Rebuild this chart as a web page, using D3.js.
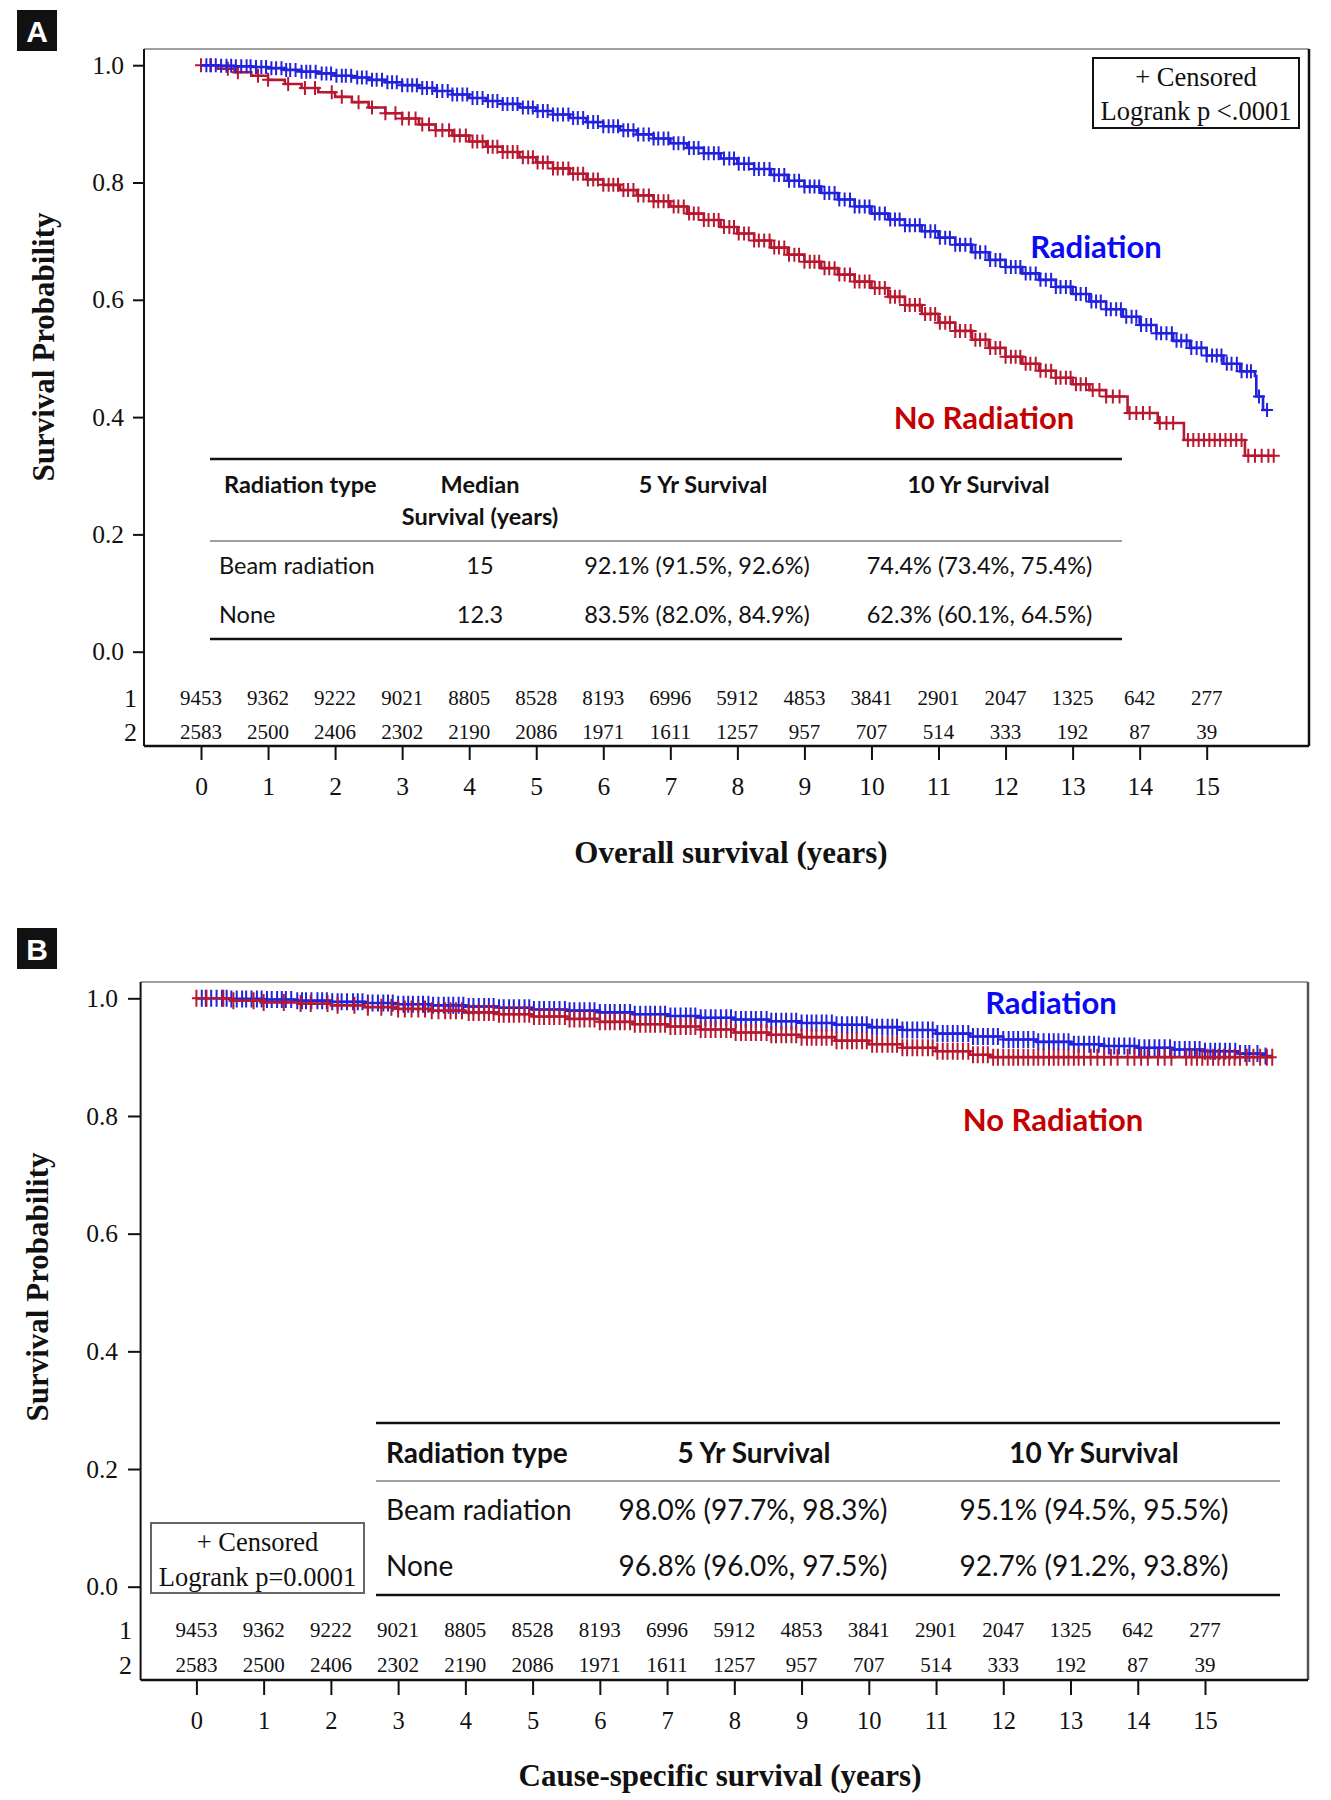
<!DOCTYPE html>
<html><head><meta charset="utf-8">
<script src="https://cdn.jsdelivr.net/npm/d3@7"></script>
<style>body{margin:0;background:#fff}svg{display:block}</style>
</head><body>
<script>
// ---------------- DATA ----------------
const years = [0,1,2,3,4,5,6,7,8,9,10,11,12,13,14,15];
const yTicks = [0.0,0.2,0.4,0.6,0.8,1.0];
const atRiskRadiation   = [9453,9362,9222,9021,8805,8528,8193,6996,5912,4853,3841,2901,2047,1325,642,277];
const atRiskNoRadiation = [2583,2500,2406,2302,2190,2086,1971,1611,1257,957,707,514,333,192,87,39];

// Panel A: overall survival (Kaplan-Meier step points)
const osRadTime = [0,0.25,0.5,0.75,1,1.25,1.5,1.75,2,2.25,2.5,2.75,3,3.25,3.5,3.75,4,4.25,4.5,4.75,5,5.25,5.5,5.75,6,6.25,6.5,6.75,7,7.25,7.5,7.75,8,8.25,8.5,8.75,9,9.25,9.5,9.75,10,10.25,10.5,10.75,11,11.25,11.5,11.75,12,12.25,12.5,12.75,13,13.25,13.5,13.75,14,14.25,14.5,14.75,15,15.25,15.5,15.72,15.74,15.84];
const osRadSurv = [1.000,0.999,0.998,0.997,0.995,0.992,0.989,0.986,0.982,0.979,0.975,0.971,0.966,0.961,0.956,0.950,0.944,0.939,0.934,0.928,0.922,0.916,0.910,0.903,0.896,0.889,0.882,0.875,0.867,0.859,0.850,0.841,0.832,0.823,0.813,0.803,0.793,0.782,0.771,0.759,0.747,0.737,0.727,0.717,0.706,0.694,0.681,0.668,0.656,0.645,0.634,0.622,0.610,0.597,0.584,0.571,0.557,0.543,0.530,0.518,0.505,0.491,0.478,0.470,0.435,0.412];
const osRadEnd = 15.92;
const osNoRadTime = [0,0.25,0.5,0.75,1,1.25,1.5,1.75,2,2.25,2.5,2.75,3,3.25,3.5,3.75,4,4.25,4.5,4.75,5,5.25,5.5,5.75,6,6.25,6.5,6.75,7,7.25,7.5,7.75,8,8.25,8.5,8.75,9,9.25,9.5,9.75,10,10.25,10.5,10.75,11,11.25,11.5,11.75,12,12.25,12.5,12.75,13,13.25,13.5,13.82,14.27,14.66,15.57];
const osNoRadSurv = [1.000,0.994,0.988,0.982,0.975,0.968,0.961,0.954,0.946,0.937,0.928,0.918,0.909,0.899,0.889,0.880,0.870,0.861,0.852,0.843,0.834,0.824,0.815,0.805,0.796,0.787,0.778,0.768,0.759,0.747,0.736,0.724,0.713,0.701,0.689,0.677,0.665,0.654,0.643,0.631,0.620,0.605,0.591,0.576,0.561,0.547,0.532,0.518,0.503,0.491,0.479,0.467,0.456,0.446,0.435,0.407,0.390,0.361,0.334];
const osNoRadEnd = 16.0;

// Panel B: cause-specific survival
const cssRadTime = [0,0.5,1,1.5,2,2.5,3,3.5,4,4.5,5,5.5,6,6.5,7,7.5,8,8.5,9,9.5,10,10.5,11,11.5,12,12.5,13,13.5,14,14.5,15,15.5,15.9];
const cssRadSurv = [1.000,0.999,0.998,0.996,0.994,0.992,0.990,0.988,0.986,0.984,0.981,0.979,0.976,0.973,0.970,0.967,0.964,0.961,0.958,0.955,0.951,0.946,0.940,0.935,0.930,0.926,0.922,0.919,0.916,0.913,0.910,0.906,0.902];
const cssRadEnd = 16.0;
const cssNoRadTime = [0,0.5,1,1.5,2,2.5,3,3.5,4,4.5,5,5.5,6,6.5,7,7.5,8,8.5,9,9.5,10,10.5,11,11.5,11.8];
const cssNoRadSurv = [1.000,0.996,0.993,0.991,0.988,0.985,0.982,0.979,0.976,0.973,0.969,0.965,0.960,0.956,0.952,0.947,0.942,0.938,0.934,0.928,0.922,0.916,0.910,0.904,0.900];
const cssNoRadEnd = 16.0;

// Censoring times (marks "+")
const censorRad = [0.08,0.14,0.22,0.3,0.38,0.45,0.52,0.6,0.68,0.74,0.82,0.9,0.97,1.05,1.12,1.2,1.27,1.33,1.41,1.5,1.57,1.63,1.71,1.8,1.87,1.94,2.02,2.1,2.16,2.24,2.33,2.4,2.47,2.55,2.62,2.7,2.78,2.85,2.92,3.0,3.08,3.15,3.22,3.3,3.37,3.45,3.52,3.6,3.68,3.75,3.82,3.9,3.97,4.05,4.12,4.2,4.28,4.35,4.42,4.5,4.57,4.65,4.72,4.8,4.88,4.95,5.02,5.1,5.17,5.25,5.32,5.4,5.48,5.55,5.62,5.7,5.77,5.85,5.92,6.0,6.08,6.15,6.22,6.3,6.37,6.45,6.52,6.6,6.68,6.75,6.82,6.9,6.97,7.05,7.12,7.2,7.28,7.35,7.42,7.5,7.57,7.65,7.72,7.8,7.88,7.95,8.02,8.1,8.17,8.25,8.32,8.4,8.48,8.55,8.62,8.7,8.77,8.85,8.92,9.0,9.08,9.15,9.22,9.3,9.37,9.45,9.52,9.6,9.68,9.75,9.82,9.9,9.97,10.05,10.12,10.2,10.28,10.35,10.42,10.5,10.57,10.65,10.72,10.8,10.88,10.95,11.02,11.1,11.17,11.25,11.32,11.4,11.48,11.55,11.62,11.7,11.77,11.85,11.92,12.0,12.08,12.15,12.22,12.3,12.37,12.45,12.52,12.6,12.68,12.75,12.82,12.9,12.97,13.05,13.12,13.2,13.28,13.35,13.42,13.5,13.57,13.65,13.72,13.8,13.88,13.95,14.02,14.1,14.17,14.25,14.32,14.4,14.48,14.55,14.62,14.7,14.77,14.85,14.92,15.0,15.08,15.15,15.22,15.3,15.37,15.45,15.52,15.6,15.66,15.78,15.9];
const censorNoRad = [0.0,0.15,0.4,0.55,0.85,1.0,1.3,1.55,1.7,1.95,2.1,2.35,2.55,2.75,2.9,3.0,3.1,3.2,3.3,3.4,3.5,3.6,3.7,3.78,3.86,3.95,4.05,4.12,4.2,4.28,4.35,4.42,4.5,4.57,4.65,4.72,4.8,4.88,4.95,5.02,5.1,5.17,5.25,5.32,5.4,5.48,5.55,5.62,5.7,5.77,5.85,5.92,6.0,6.08,6.15,6.22,6.3,6.37,6.45,6.52,6.6,6.68,6.75,6.82,6.9,6.97,7.05,7.12,7.2,7.28,7.35,7.42,7.5,7.57,7.65,7.72,7.8,7.88,7.95,8.02,8.1,8.17,8.25,8.32,8.4,8.48,8.55,8.62,8.7,8.77,8.85,8.92,9.0,9.08,9.15,9.22,9.3,9.37,9.45,9.52,9.6,9.68,9.75,9.82,9.9,9.97,10.05,10.12,10.2,10.28,10.35,10.42,10.5,10.57,10.65,10.72,10.8,10.88,10.95,11.02,11.1,11.17,11.25,11.32,11.4,11.48,11.55,11.62,11.7,11.77,11.85,11.92,12.0,12.08,12.15,12.22,12.3,12.37,12.45,12.52,12.6,12.68,12.75,12.82,12.9,12.97,13.05,13.12,13.2,13.3,13.4,13.5,13.6,13.7,13.85,13.95,14.05,14.15,14.3,14.4,14.5,14.72,14.8,14.88,14.96,15.04,15.12,15.2,15.28,15.36,15.44,15.52,15.62,15.72,15.82,15.92,16.0];

// Tables
const tableAHeader = [["Radiation type"],["Median","Survival (years)"],["5 Yr Survival"],["10 Yr Survival"]];
const tableARows = [
  ["Beam radiation","15","92.1% (91.5%, 92.6%)","74.4% (73.4%, 75.4%)"],
  ["None","12.3","83.5% (82.0%, 84.9%)","62.3% (60.1%, 64.5%)"]
];
const tableBHeader = [["Radiation type"],["5 Yr Survival"],["10 Yr Survival"]];
const tableBRows = [
  ["Beam radiation","98.0% (97.7%, 98.3%)","95.1% (94.5%, 95.5%)"],
  ["None","96.8% (96.0%, 97.5%)","92.7% (91.2%, 93.8%)"]
];

// ---------------- DRAW ----------------
const SERIF = "'Liberation Serif','Times New Roman',serif";
const SANS = "Lato,'Open Sans',sans-serif";
const BLUE = "#2222dd", RED = "#b8182f", BLUE_T = "#0a0af5", RED_T = "#c40000", INK = "#111";

const svg = d3.select("body").append("svg").attr("width",1331).attr("height",1800);

function stepAt(times, surv, t){ let v = surv[0]; for (let i=0;i<times.length;i++){ if (times[i] <= t) v = surv[i]; } return v; }

function drawPanel(p){
  const g = svg.append("g");
  const x = d3.scaleLinear().domain([0,15]).range(p.xRange);
  const y = d3.scaleLinear().domain([0,1]).range(p.yRange);

  // panel letter
  g.append("rect").attr("x",17).attr("y",p.letterY).attr("width",40).attr("height",41).attr("fill",INK);
  g.append("text").attr("x",37).attr("y",p.letterY+21).attr("text-anchor","middle").attr("dominant-baseline","central")
    .attr("font-family","'Liberation Sans',Arial,sans-serif").attr("font-weight","bold").attr("font-size",30).attr("fill","#fff").text(p.letter);

  // frame
  g.append("line").attr("x1",p.left).attr("x2",p.right).attr("y1",p.top).attr("y2",p.top).attr("stroke","#808080").attr("stroke-width",1.5);
  g.append("line").attr("x1",p.right).attr("x2",p.right).attr("y1",p.top).attr("y2",p.bottom).attr("stroke",p.rightColor).attr("stroke-width",2.5);
  g.append("line").attr("x1",p.left).attr("x2",p.left).attr("y1",p.top).attr("y2",p.bottom).attr("stroke",INK).attr("stroke-width",2);
  g.append("line").attr("x1",p.left).attr("x2",p.right).attr("y1",p.bottom).attr("y2",p.bottom).attr("stroke",INK).attr("stroke-width",2.5);

  // y axis
  const ya = g.append("g").attr("transform",`translate(${p.left},0)`)
    .call(d3.axisLeft(y).tickValues(yTicks).tickFormat(d3.format(".1f")).tickSize(p.yTickSize).tickPadding(p.yTickPad));
  ya.select(".domain").remove();
  ya.attr("font-family",SERIF).attr("font-size",25.5);
  ya.selectAll("line").attr("stroke",INK).attr("stroke-width",2);
  ya.selectAll("text").attr("fill",INK);

  // x axis
  const xa = g.append("g").attr("transform",`translate(0,${p.bottom})`)
    .call(d3.axisBottom(x).tickValues(years).tickFormat(d3.format("d")).tickSize(p.xTickSize));
  xa.select(".domain").remove();
  xa.attr("font-family",SERIF).attr("font-size",p.xTickFont);
  xa.selectAll("line").attr("stroke",INK).attr("stroke-width",2);
  xa.selectAll("text").attr("fill",INK).attr("y",p.xLabelOff).attr("dy","0.35em");

  // axis titles
  g.append("text").attr("transform",`translate(${p.yTitleX},${p.yTitleY}) rotate(-90)`).attr("text-anchor","middle").attr("dominant-baseline","central")
    .attr("font-family",SERIF).attr("font-weight","bold").attr("font-size",31).attr("fill",INK).text("Survival Probability");
  g.append("text").attr("x",p.xTitleX).attr("y",p.xTitleY).attr("text-anchor","middle").attr("dominant-baseline","central")
    .attr("font-family",SERIF).attr("font-weight","bold").attr("font-size",31).attr("fill",INK).text(p.xTitle);

  // numbers at risk
  [[atRiskRadiation,"1",p.riskY[0]],[atRiskNoRadiation,"2",p.riskY[1]]].forEach(([arr,lab,yy])=>{
    g.append("text").attr("x",p.riskLabelX).attr("y",yy).attr("text-anchor","end").attr("dominant-baseline","central")
      .attr("font-family",SERIF).attr("font-size",26).attr("fill",INK).text(lab);
    g.selectAll(null).data(arr).enter().append("text")
      .attr("x",(d,i)=>x(years[i])).attr("y",yy).attr("text-anchor","middle").attr("dominant-baseline","central")
      .attr("font-family",SERIF).attr("font-size",21).attr("fill",INK).text(d=>d);
  });

  // table
  const t = p.table;
  g.append("line").attr("x1",t.x1).attr("x2",t.x2).attr("y1",t.lineTop).attr("y2",t.lineTop).attr("stroke",INK).attr("stroke-width",2.5);
  g.append("line").attr("x1",t.x1).attr("x2",t.x2).attr("y1",t.lineMid).attr("y2",t.lineMid).attr("stroke","#808080").attr("stroke-width",1.5);
  g.append("line").attr("x1",t.x1).attr("x2",t.x2).attr("y1",t.lineBot).attr("y2",t.lineBot).attr("stroke",INK).attr("stroke-width",2.5);
  t.header.forEach((lines,ci)=>{
    lines.forEach((ln,li)=>{
      g.append("text").attr("x",ci===0?t.headX0:t.headColX[ci]).attr("y",t.headY[li])
        .attr("text-anchor",ci===0?"start":"middle").attr("dominant-baseline","central")
        .attr("font-family",SANS).attr("font-weight",700).attr("font-size",t.fs).attr("fill",INK).text(ln);
    });
  });
  t.rows.forEach((row,ri)=>{
    row.forEach((cell,ci)=>{
      g.append("text").attr("x",ci===0?t.rowX0:t.rowColX[ci]).attr("y",t.rowY[ri])
        .attr("text-anchor",ci===0?"start":"middle").attr("dominant-baseline","central")
        .attr("font-family",SANS).attr("font-weight",400).attr("font-size",t.fs).attr("fill",INK).text(cell);
    });
  });

  // legend box
  const L = p.legend;
  g.append("rect").attr("x",L.x).attr("y",L.y).attr("width",L.w).attr("height",L.h).attr("fill","#fff").attr("stroke",L.stroke).attr("stroke-width",2);
  [["+ Censored",L.y1],[L.text2,L.y2]].forEach(([s,yy])=>{
    g.append("text").attr("x",L.x+L.w/2).attr("y",yy).attr("text-anchor","middle").attr("dominant-baseline","central")
      .attr("font-family",SERIF).attr("font-size",26.5).attr("fill",INK).text(s);
  });

  // curves
  const line = d3.line().x(d=>x(d[0])).y(d=>y(d[1])).curve(d3.curveStepAfter);
  p.curves.forEach(c=>{
    const pts = c.time.map((tt,i)=>[tt,c.surv[i]]);
    pts.push([c.end, c.surv[c.surv.length-1]]);
    g.append("path").datum(pts).attr("d",line).attr("fill","none").attr("stroke",c.color).attr("stroke-width",2.6);
    const marks = c.censor.filter(tt=>tt<=c.end);
    g.append("path").attr("d", marks.map(tt=>{
        const cx = x(tt), cy = y(stepAt(c.time,c.surv,tt));
        return `M${cx-p.mw},${cy}H${cx+p.mw}M${cx},${cy-p.mh}V${cy+p.mh}`;
      }).join(""))
      .attr("fill","none").attr("stroke",c.color).attr("stroke-width",p.msw);
  });

  // curve labels
  g.append("text").attr("x",p.radLabel[0]).attr("y",p.radLabel[1]).attr("text-anchor","middle").attr("dominant-baseline","central")
    .attr("font-family",SANS).attr("font-weight",700).attr("font-size",31).attr("fill",BLUE_T).text("Radiation");
  g.append("text").attr("x",p.noRadLabel[0]).attr("y",p.noRadLabel[1]).attr("text-anchor","middle").attr("dominant-baseline","central")
    .attr("font-family",SANS).attr("font-weight",700).attr("font-size",31).attr("fill",RED_T).text("No Radiation");
}

drawPanel({
  letter:"A", letterY:10,
  left:144, top:49, right:1309, bottom:746, rightColor:INK,
  xRange:[201,1206.7], yRange:[651.7,65.2],
  yTickSize:11, yTickPad:9, xTickSize:14, xTickFont:25.5, xLabelOff:40,
  yTitleX:43, yTitleY:347, xTitleX:731, xTitleY:852, xTitle:"Overall survival (years)",
  riskY:[698,732], riskLabelX:137,
  table:{x1:210,x2:1122,lineTop:459,lineMid:541,lineBot:639,fs:23.5,
    header:tableAHeader, rows:tableARows, headX0:224, rowX0:219,
    headColX:[0,480,703,978.5], rowColX:[0,480,697,979.5],
    headY:[483.5,515.5], rowY:[565,614]},
  legend:{x:1093,y:58,w:206,h:70,stroke:INK,y1:77,y2:111,text2:"Logrank p <.0001"},
  mw:6, mh:7, msw:2,
  curves:[
    {time:osNoRadTime,surv:osNoRadSurv,end:osNoRadEnd,censor:censorNoRad,color:RED},
    {time:osRadTime,surv:osRadSurv,end:osRadEnd,censor:censorRad,color:BLUE}
  ],
  radLabel:[1096,246], noRadLabel:[984,417]
});

drawPanel({
  letter:"B", letterY:928,
  left:140.6, top:982, right:1308, bottom:1680, rightColor:"#555",
  xRange:[196.4,1205], yRange:[1586.7,998.3],
  yTickSize:12.6, yTickPad:10, xTickSize:15, xTickFont:24.5, xLabelOff:40,
  yTitleX:37, yTitleY:1287, xTitleX:720, xTitleY:1775, xTitle:"Cause-specific survival (years)",
  riskY:[1630,1665], riskLabelX:132,
  table:{x1:376,x2:1280,lineTop:1423,lineMid:1481,lineBot:1595,fs:28,
    header:tableBHeader, rows:tableBRows, headX0:386, rowX0:386,
    headColX:[0,754,1094], rowColX:[0,753,1094],
    headY:[1452], rowY:[1509,1565]},
  legend:{x:151,y:1523,w:213,h:70,stroke:"#666",y1:1542,y2:1577,text2:"Logrank p=0.0001"},
  mw:4.5, mh:8.5, msw:2,
  curves:[
    {time:cssRadTime,surv:cssRadSurv,end:cssRadEnd,censor:censorRad,color:BLUE},
    {time:cssNoRadTime,surv:cssNoRadSurv,end:cssNoRadEnd,censor:censorNoRad,color:RED}
  ],
  radLabel:[1051,1002], noRadLabel:[1053,1119]
});
</script>
</body></html>
